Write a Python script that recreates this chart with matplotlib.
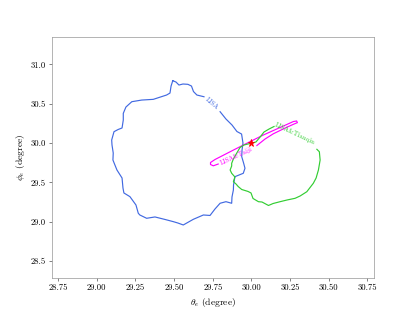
import numpy as np
import matplotlib
matplotlib.use("Agg")
import matplotlib.pyplot as plt

plt.rcParams['font.family'] = 'serif'
plt.rcParams['font.serif'] = ['cmr10']
plt.rcParams['mathtext.fontset'] = 'cm'
plt.rcParams['axes.formatter.use_mathtext'] = True

# contour outlines (degrees)
lisa_x = [29.491, 29.512, 29.531, 29.557, 29.589, 29.612, 29.625, 29.647, 29.693,
          None,
          29.797, 29.835, 29.874, 29.906, 29.936, 29.945, 29.939, 29.937, 29.949, 29.958,
          29.947, 29.893, 29.884, 29.883, 29.874, 29.872, 29.835, 29.797, 29.764, 29.732,
          29.689, 29.624, 29.559, 29.524, 29.495, 29.441, 29.376, 29.322, 29.278, 29.268,
          29.253, 29.214, 29.175, 29.169, 29.163, 29.130, 29.117, 29.104, 29.106, 29.098,
          29.096, 29.111, 29.138, 29.163, 29.171, 29.171, 29.188, 29.226, 29.290, 29.365,
          29.451, 29.473, 29.480, 29.491]
lisa_y = [30.792, 30.775, 30.737, 30.750, 30.746, 30.724, 30.654, 30.610, 30.588,
          None,
          30.398, 30.305, 30.229, 30.146, 30.114, 30.000, 29.911, 29.826, 29.746, 29.679,
          29.615, 29.572, 29.466, 29.403, 29.314, 29.234, 29.254, 29.234, 29.161, 29.079,
          29.085, 29.030, 28.958, 28.983, 29.000, 29.028, 29.060, 29.043, 29.085, 29.107,
          29.212, 29.318, 29.365, 29.428, 29.555, 29.657, 29.720, 29.784, 29.873, 29.975,
          30.038, 30.144, 30.172, 30.191, 30.292, 30.377, 30.457, 30.525, 30.546, 30.555,
          30.610, 30.635, 30.724, 30.792]

tianqin_x = [30.423, 30.439, 30.444, 30.433, 30.418, 30.400, 30.358, 30.315, 30.282,
             30.231, 30.185, 30.140, 30.110, 30.068, 30.045, 30.010, 29.997, 29.978,
             29.937, 29.915, 29.900, 29.883, 29.893, 29.872, 29.862, 29.872, 29.872,
             29.883, 29.904, 29.926, 29.952, 29.991, 30.029, 30.056, 30.081, 30.114, 30.146]
tianqin_y = [29.920, 29.889, 29.784, 29.657, 29.555, 29.488, 29.381, 29.327, 29.297,
             29.276, 29.254, 29.231, 29.206, 29.250, 29.254, 29.295, 29.365, 29.384,
             29.409, 29.445, 29.479, 29.508, 29.568, 29.615, 29.657, 29.708, 29.742,
             29.797, 29.869, 29.943, 29.975, 29.994, 30.013, 30.076, 30.140, 30.178, 30.210]

taiji_x = [30.035, 30.088, 30.141, 30.229, 30.275, 30.297, 30.292, 30.271, 30.185,
           30.077, 29.969, 29.862, 29.764, 29.735, 29.735, 29.753, 29.785]
taiji_y = [29.968, 30.051, 30.117, 30.201, 30.241, 30.259, 30.280, 30.273, 30.197,
           30.102, 29.996, 29.889, 29.790, 29.752, 29.727, 29.710, 29.733]

true_theta = 30.0
true_phi = 30.0

labels = ['LISA', 'LISA&Taiji', 'LISA&Tianqin']
label_x = [29.745, 29.900, 30.282]
label_y = [30.502, 29.835, 30.114]
label_rot = [-40, 25, -25]
colors = ['#4169e1', '#ff00ff', '#32cd32']

fig, ax = plt.subplots(figsize=(6.4, 4.8), dpi=65)

lx = np.array([np.nan if v is None else v for v in lisa_x])
ly = np.array([np.nan if v is None else v for v in lisa_y])
ax.plot(lx, ly, color=colors[0], lw=1.3)
ax.plot(taiji_x, taiji_y, color=colors[1], lw=1.3)
ax.plot(tianqin_x, tianqin_y, color=colors[2], lw=1.3)

for i in range(3):
    ax.text(label_x[i], label_y[i], labels[i], color=colors[i], fontsize=7.5,
            rotation=label_rot[i], ha='center', va='center', rotation_mode='anchor')

ax.plot(true_theta, true_phi, marker='*', color='red', markersize=8, ls='none')

ax.set_xlim(28.71, 30.795)
ax.set_ylim(28.288, 31.342)
ax.set_xticks(np.arange(28.75, 30.76, 0.25))
ax.set_yticks(np.arange(28.5, 31.01, 0.5))
ax.set_xticklabels(['%.2f' % v for v in np.arange(28.75, 30.76, 0.25)])
ax.set_yticklabels(['%.1f' % v for v in np.arange(28.5, 31.01, 0.5)])
ax.tick_params(labelsize=9.5, color='#555555')
for s in ax.spines.values():
    s.set_color('#999999')
ax.set_xlabel(r'$\theta_e$ (degree)', fontsize=10.5)
ax.set_ylabel(r'$\phi_e$ (degree)', fontsize=10.5)

plt.savefig('out.png', dpi=65)
